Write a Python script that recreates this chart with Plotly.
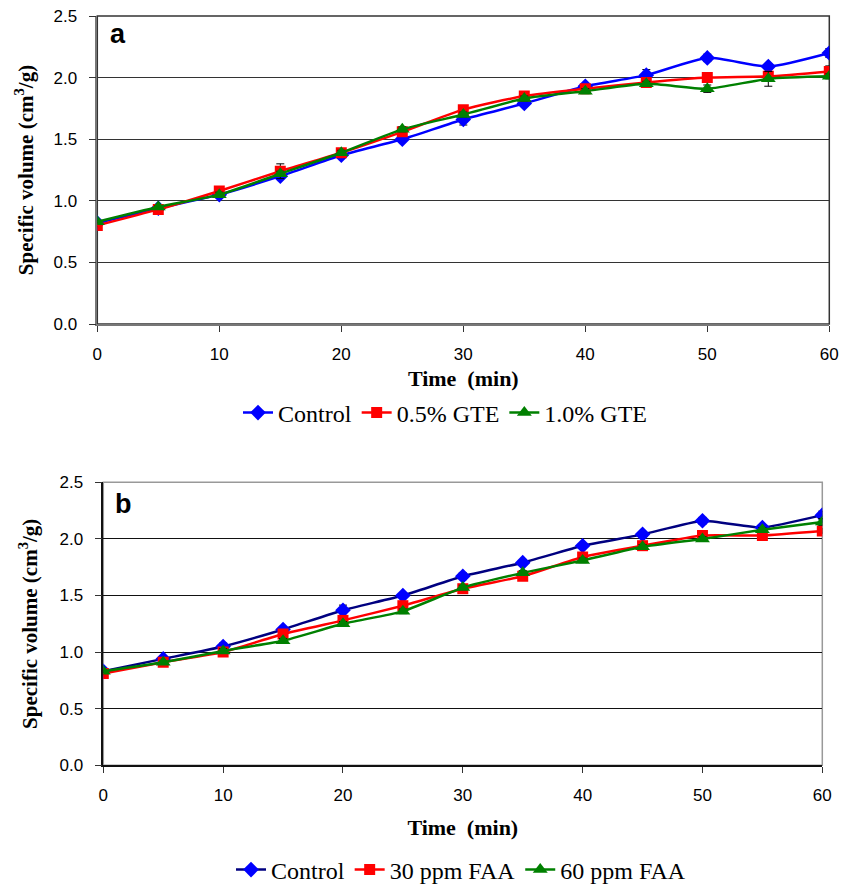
import plotly.graph_objects as go

time = [0, 5, 10, 15, 20, 25, 30, 35, 40, 45, 50, 55, 60]

# Panel a
a_control = [0.82, 0.94, 1.05, 1.20, 1.37, 1.50, 1.66, 1.79, 1.93, 2.02, 2.16, 2.09, 2.20]
a_gte05 = [0.80, 0.93, 1.08, 1.24, 1.39, 1.56, 1.74, 1.85, 1.91, 1.96, 2.00, 2.01, 2.05]
a_gte10 = [0.83, 0.95, 1.05, 1.22, 1.39, 1.58, 1.70, 1.83, 1.89, 1.95, 1.91, 1.99, 2.01]
a_control_err = [0.01, 0.01, 0.02, 0.02, 0.02, 0.02, 0.045, 0.02, 0.02, 0.045, 0.03, 0.02, 0.035]
a_gte05_err = [0.01, 0.01, 0.02, 0.06, 0.02, 0.02, 0.02, 0.02, 0.02, 0.02, 0.02, 0.04, 0.045]
a_gte10_err = [0.01, 0.01, 0.02, 0.02, 0.02, 0.02, 0.02, 0.02, 0.02, 0.02, 0.03, 0.06, 0.02]

# Panel b
b_control = [0.83, 0.94, 1.05, 1.20, 1.37, 1.50, 1.67, 1.79, 1.94, 2.04, 2.16, 2.10, 2.21]
b_faa30 = [0.81, 0.91, 1.00, 1.16, 1.28, 1.41, 1.56, 1.67, 1.84, 1.94, 2.03, 2.03, 2.07]
b_faa60 = [0.83, 0.91, 1.01, 1.10, 1.25, 1.36, 1.57, 1.70, 1.81, 1.93, 2.00, 2.08, 2.15]
b_control_err = [0.01, 0.02, 0.03, 0.02, 0.045, 0.02, 0.03, 0.02, 0.02, 0.02, 0.03, 0.02, 0.035]
b_faa30_err = [0.01, 0.01, 0.02, 0.02, 0.02, 0.02, 0.02, 0.02, 0.02, 0.02, 0.02, 0.02, 0.02]
b_faa60_err = [0.01, 0.01, 0.02, 0.02, 0.02, 0.02, 0.02, 0.02, 0.02, 0.02, 0.02, 0.02, 0.03]

x_ticks = [0, 10, 20, 30, 40, 50, 60]
y_ticks = [0.0, 0.5, 1.0, 1.5, 2.0, 2.5]

TIMES = "Liberation Serif, Times New Roman, serif"
ARIAL = "Liberation Sans, Arial, sans-serif"

fig = go.Figure()


def add_series(x, y, err, name, line_color, marker_color, symbol, msize, xa, ya, legend, smooth):
    fig.add_trace(go.Scatter(
        x=x, y=y, name=name, mode="lines+markers",
        line=dict(color=line_color, width=2.5, shape="spline", smoothing=smooth),
        marker=dict(color=marker_color, symbol=symbol, size=msize),
        error_y=dict(type="data", array=err, color="black", thickness=1, width=4),
        xaxis=xa, yaxis=ya, legend=legend,
    ))


add_series(time, a_control, a_control_err, "Control", "#0000FF", "#0000FF", "diamond", 12, "x", "y", "legend", 0.6)
add_series(time, a_gte05, a_gte05_err, "0.5% GTE", "#FF0000", "#FF0000", "square", 11, "x", "y", "legend", 0.6)
add_series(time, a_gte10, a_gte10_err, "1.0% GTE", "#008000", "#008000", "triangle-up", 13, "x", "y", "legend", 0.6)

add_series(time, b_control, b_control_err, "Control", "#000080", "#0000FF", "diamond", 12, "x2", "y2", "legend2", 0.4)
add_series(time, b_faa30, b_faa30_err, "30 ppm FAA", "#FF0000", "#FF0000", "square", 11, "x2", "y2", "legend2", 0.4)
add_series(time, b_faa60, b_faa60_err, "60 ppm FAA", "#008000", "#008000", "triangle-up", 13, "x2", "y2", "legend2", 0.4)

H = 885.0
W = 854.0


def xaxis_cfg(linecolor, standoff):
    return dict(
        range=[0, 60], tickvals=x_ticks, ticktext=[str(v) for v in x_ticks],
        ticks="outside", ticklen=6, tickcolor="#333", showgrid=False, zeroline=False,
        showline=True, linecolor=linecolor, linewidth=1.5, mirror=False,
        ticklabelstandoff=8, automargin=False,
        tickfont=dict(family=ARIAL, size=17, color="black"),
        title=dict(text="<b>Time&nbsp;&nbsp;(min)</b>", font=dict(family=TIMES, size=22, color="black"),
                   standoff=standoff),
    )


def yaxis_cfg(linecolor, gridcolor, standoff):
    return dict(
        range=[0, 2.5], tickvals=y_ticks, ticktext=["%.1f" % v for v in y_ticks],
        ticks="outside", ticklen=7, tickcolor="#333", showgrid=True, gridcolor=gridcolor, gridwidth=1,
        zeroline=False, showline=True, linecolor=linecolor, linewidth=1.5, mirror=False,
        ticklabelstandoff=8, automargin=False,
        tickfont=dict(family=ARIAL, size=17, color="black"),
        title=dict(text="<b>Specific volume (cm<sup>3</sup>/g)</b>", font=dict(family=TIMES, size=21, color="black"),
                   standoff=standoff),
    )


fig.update_layout(
    width=854, height=885, autosize=False,
    margin=dict(l=0, r=0, t=0, b=0, pad=0, autoexpand=False),
    paper_bgcolor="white", plot_bgcolor="white",
    xaxis=dict(domain=[97.3 / W, 829.3 / W], anchor="y", **xaxis_cfg("#777", 7)),
    yaxis=dict(domain=[1 - 324 / H, 1 - 16 / H], anchor="x", **yaxis_cfg("#777", "#333", 14)),
    xaxis2=dict(domain=[103.3 / W, 822.3 / W], anchor="y2", **xaxis_cfg("#111", 15)),
    yaxis2=dict(domain=[1 - 765.3 / H, 1 - 482.3 / H], anchor="x2", **yaxis_cfg("#111", "#111", 16)),
    legend=dict(orientation="h", x=445 / W, y=1 - 413 / H, xanchor="center", yanchor="middle",
                font=dict(family=TIMES, size=24, color="black"), bgcolor="rgba(0,0,0,0)",
                tracegroupgap=0),
    legend2=dict(orientation="h", x=461 / W, y=1 - 870 / H, xanchor="center", yanchor="middle",
                 font=dict(family=TIMES, size=24, color="black"), bgcolor="rgba(0,0,0,0)",
                 tracegroupgap=0),
    showlegend=True,
    shapes=[
        dict(type="rect", xref="x domain", yref="y domain", x0=0, x1=1, y0=0, y1=1,
             line=dict(color="#333", width=1.5), layer="below"),
        dict(type="rect", xref="x2 domain", yref="y2 domain", x0=0, x1=1, y0=0, y1=1,
             line=dict(color="#999", width=1.5), layer="below"),
    ],
    annotations=[
        dict(text="<b>a</b>", x=0.014, y=0.94, xref="x domain", yref="y domain", showarrow=False,
             xanchor="left", yanchor="middle", font=dict(family=ARIAL, size=27, color="black")),
        dict(text="<b>b</b>", x=0.013, y=0.924, xref="x2 domain", yref="y2 domain", showarrow=False,
             xanchor="left", yanchor="middle", font=dict(family=ARIAL, size=27, color="black")),
    ],
)

fig.write_html("out.html")
